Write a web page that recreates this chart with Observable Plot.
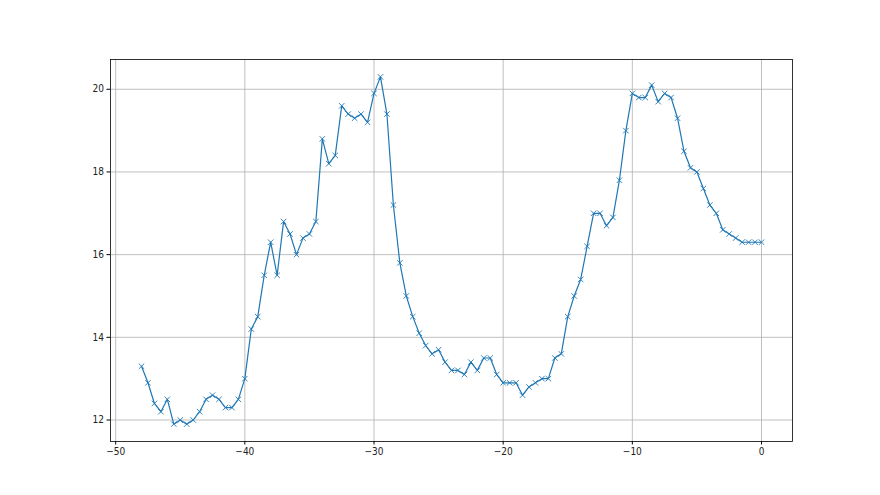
<!DOCTYPE html>
<html>
<head>
<meta charset="utf-8">
<script src="https://cdn.jsdelivr.net/npm/d3@7"></script>
<script src="https://cdn.jsdelivr.net/npm/@observablehq/plot@0.6"></script>
<style>
  html, body { margin: 0; padding: 0; background: #fff; }
  #chart svg { display: block; }
</style>
</head>
<body>
<div id="chart"></div>
<script>
const xs = [-48,-47.5,-47,-46.5,-46,-45.5,-45,-44.5,-44,-43.5,-43,-42.5,-42,-41.5,-41,-40.5,
  -40,-39.5,-39,-38.5,-38,-37.5,-37,-36.5,-36,-35.5,-35,-34.5,-34,-33.5,-33,-32.5,
  -32,-31.5,-31,-30.5,-30,-29.5,-29,-28.5,-28,-27.5,-27,-26.5,-26,-25.5,-25,-24.5,
  -24,-23.5,-23,-22.5,-22,-21.5,-21,-20.5,-20,-19.5,-19,-18.5,-18,-17.5,-17,-16.5,
  -16,-15.5,-15,-14.5,-14,-13.5,-13,-12.5,-12,-11.5,-11,-10.5,-10,-9.5,-9,-8.5,
  -8,-7.5,-7,-6.5,-6,-5.5,-5,-4.5,-4,-3.5,-3,-2.5,-2,-1.5,-1,-0.5,0];
const ys = [13.3,12.9,12.4,12.2,12.5,11.9,12.0,11.9,12.0,12.2,12.5,12.6,12.5,12.3,12.3,12.5,
  13.0,14.2,14.5,15.5,16.3,15.5,16.8,16.5,16.0,16.4,16.5,16.8,18.8,18.2,18.4,19.6,
  19.4,19.3,19.4,19.2,19.9,20.3,19.4,17.2,15.8,15.0,14.5,14.1,13.8,13.6,13.7,13.4,
  13.2,13.2,13.1,13.4,13.2,13.5,13.5,13.1,12.9,12.9,12.9,12.6,12.8,12.9,13.0,13.0,
  13.5,13.6,14.5,15.0,15.4,16.2,17.0,17.0,16.7,16.9,17.8,19.0,19.9,19.8,19.8,20.1,
  19.7,19.9,19.8,19.3,18.5,18.1,18.0,17.6,17.2,17.0,16.6,16.5,16.4,16.3,16.3,16.3,16.3];
const xTicks = [-50, -40, -30, -20, -10, 0];
const yTicks = [12, 14, 16, 18, 20];

const data = xs.map((x, i) => ({x, y: ys[i]}));

const chart = Plot.plot({
  width: 880,
  height: 495,
  marginLeft: 110,
  marginRight: 88,
  marginTop: 59,
  marginBottom: 54,
  style: {fontFamily: "'Liberation Sans Narrow', 'DejaVu Sans Condensed', 'DejaVu Sans', sans-serif", fontSize: "10px", color: "#222", background: "white"},
  x: {domain: [-50.4, 2.4]},
  y: {domain: [11.48, 20.72]},
  marks: [
    Plot.ruleX(xTicks, {stroke: "#b0b0b0", strokeWidth: 0.8}),
    Plot.ruleY(yTicks, {stroke: "#b0b0b0", strokeWidth: 0.8}),
    Plot.line(data, {x: "x", y: "y", stroke: "#1f77b4", strokeWidth: 1.2}),
    Plot.dot(data, {x: "x", y: "y", symbol: "times", r: 2.6, stroke: "#1f77b4", strokeWidth: 0.9}),
    Plot.axisX({ticks: xTicks, tickSize: 3.5, tickPadding: 3, tickFormat: d => String(d).replace("-", "\u2212"), label: null, stroke: "black"}),
    Plot.axisY({ticks: yTicks, tickSize: 3.5, tickPadding: 3, label: null, stroke: "black"}),
    Plot.frame({stroke: "black", strokeWidth: 0.8})
  ]
});
document.getElementById("chart").appendChild(chart);
</script>
</body>
</html>
